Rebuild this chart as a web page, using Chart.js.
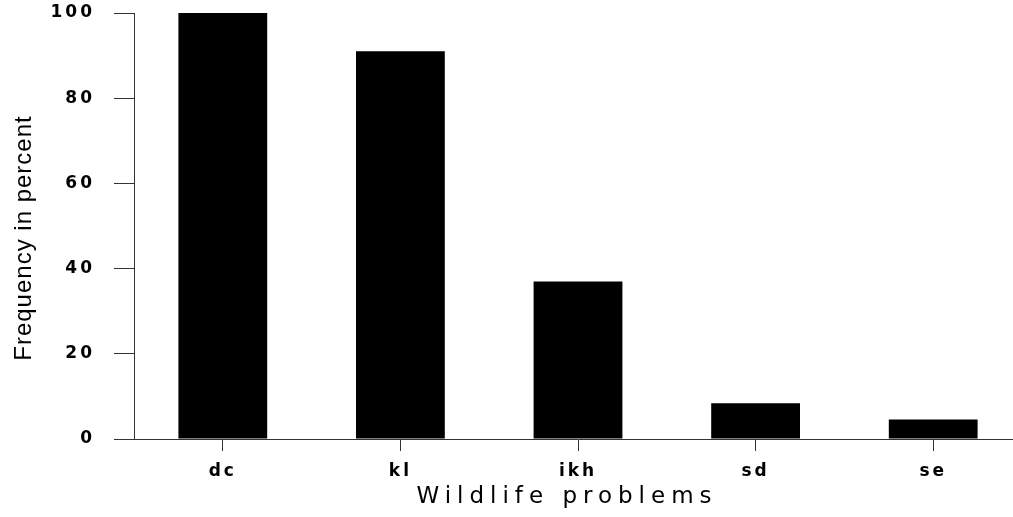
<!DOCTYPE html>
<html>
<head>
<meta charset="utf-8">
<script src="https://cdn.jsdelivr.net/npm/chart.js@4/dist/chart.umd.min.js"></script>
<style>
  html, body { margin: 0; padding: 0; background: #fff; overflow: hidden; }
  #wrap { width: 1013px; height: 517px; overflow: hidden; }
</style>
</head>
<body>
<div id="wrap"><canvas id="barChart" width="1022" height="517"></canvas></div>
<script>
// data
const categories = ['dc', 'kl', 'ikh', 'sd', 'se'];
const frequency = [100, 91, 37, 8.4, 4.6];
const yTicks = [0, 20, 40, 60, 80, 100];
const xTitle = 'Wildlife problems';
const yTitle = 'Frequency in percent';

// wide spaced tick labels
const spacing = {
    id: 'spacing',
    beforeDraw(chart) {
        chart.ctx.letterSpacing = '3px';
    },
};

// axis titles drawn by hand, each with its own letter spacing
const axisTitles = {
    id: 'axisTitles',
    afterDraw(chart) {
        const ctx = chart.ctx;
        const area = chart.chartArea;
        ctx.save();
        ctx.fillStyle = '#000';
        ctx.textAlign = 'center';
        ctx.textBaseline = 'middle';

        ctx.letterSpacing = '6px';
        ctx.font = '500 23px "DejaVu Sans"';
        ctx.fillText(xTitle, (area.left + area.right) / 2 - 11, 497);

        ctx.letterSpacing = '1px';
        ctx.font = '24px "Liberation Sans"';
        ctx.translate(24, 238);
        ctx.rotate(-Math.PI / 2);
        ctx.fillText(yTitle, 0, 0);
        ctx.restore();
    },
};

const ctx = document.getElementById('barChart').getContext('2d');
new Chart(ctx, {
    type: 'bar',
    data: {
        labels: categories,
        datasets: [
            {
                data: frequency,
                backgroundColor: '#000',
                borderWidth: 0,
                barPercentage: 1,
                categoryPercentage: 0.5,
            },
        ],
    },
    options: {
        responsive: false,
        animation: false,
        layout: { padding: 0 },
        plugins: {
            legend: { display: false },
            tooltip: { enabled: false },
        },
        scales: {
            x: {
                offset: true,
                grid: {
                    offset: false,
                    drawOnChartArea: false,
                    tickLength: 12,
                    color: '#333',
                },
                border: { color: '#333', width: 1 },
                ticks: {
                    color: '#000',
                    padding: 10,
                    maxRotation: 0,
                    font: { family: 'DejaVu Sans', size: 17, weight: 'bold' },
                },
                afterFit(scale) {
                    scale.height = 78;
                },
            },
            y: {
                min: yTicks[0],
                max: yTicks[yTicks.length - 1],
                grid: {
                    drawOnChartArea: false,
                    tickLength: 20,
                    color: '#333',
                },
                border: { color: '#333', width: 1 },
                ticks: {
                    stepSize: yTicks[1] - yTicks[0],
                    color: '#000',
                    padding: 19,
                    font: { family: 'DejaVu Sans', size: 17, weight: 'bold' },
                },
                afterFit(scale) {
                    scale.width = 134;
                    scale.paddingTop = 13; // top of plot at the 100 tick
                    scale.paddingBottom = 0;
                },
            },
        },
    },
    plugins: [spacing, axisTitles],
});
</script>
</body>
</html>
